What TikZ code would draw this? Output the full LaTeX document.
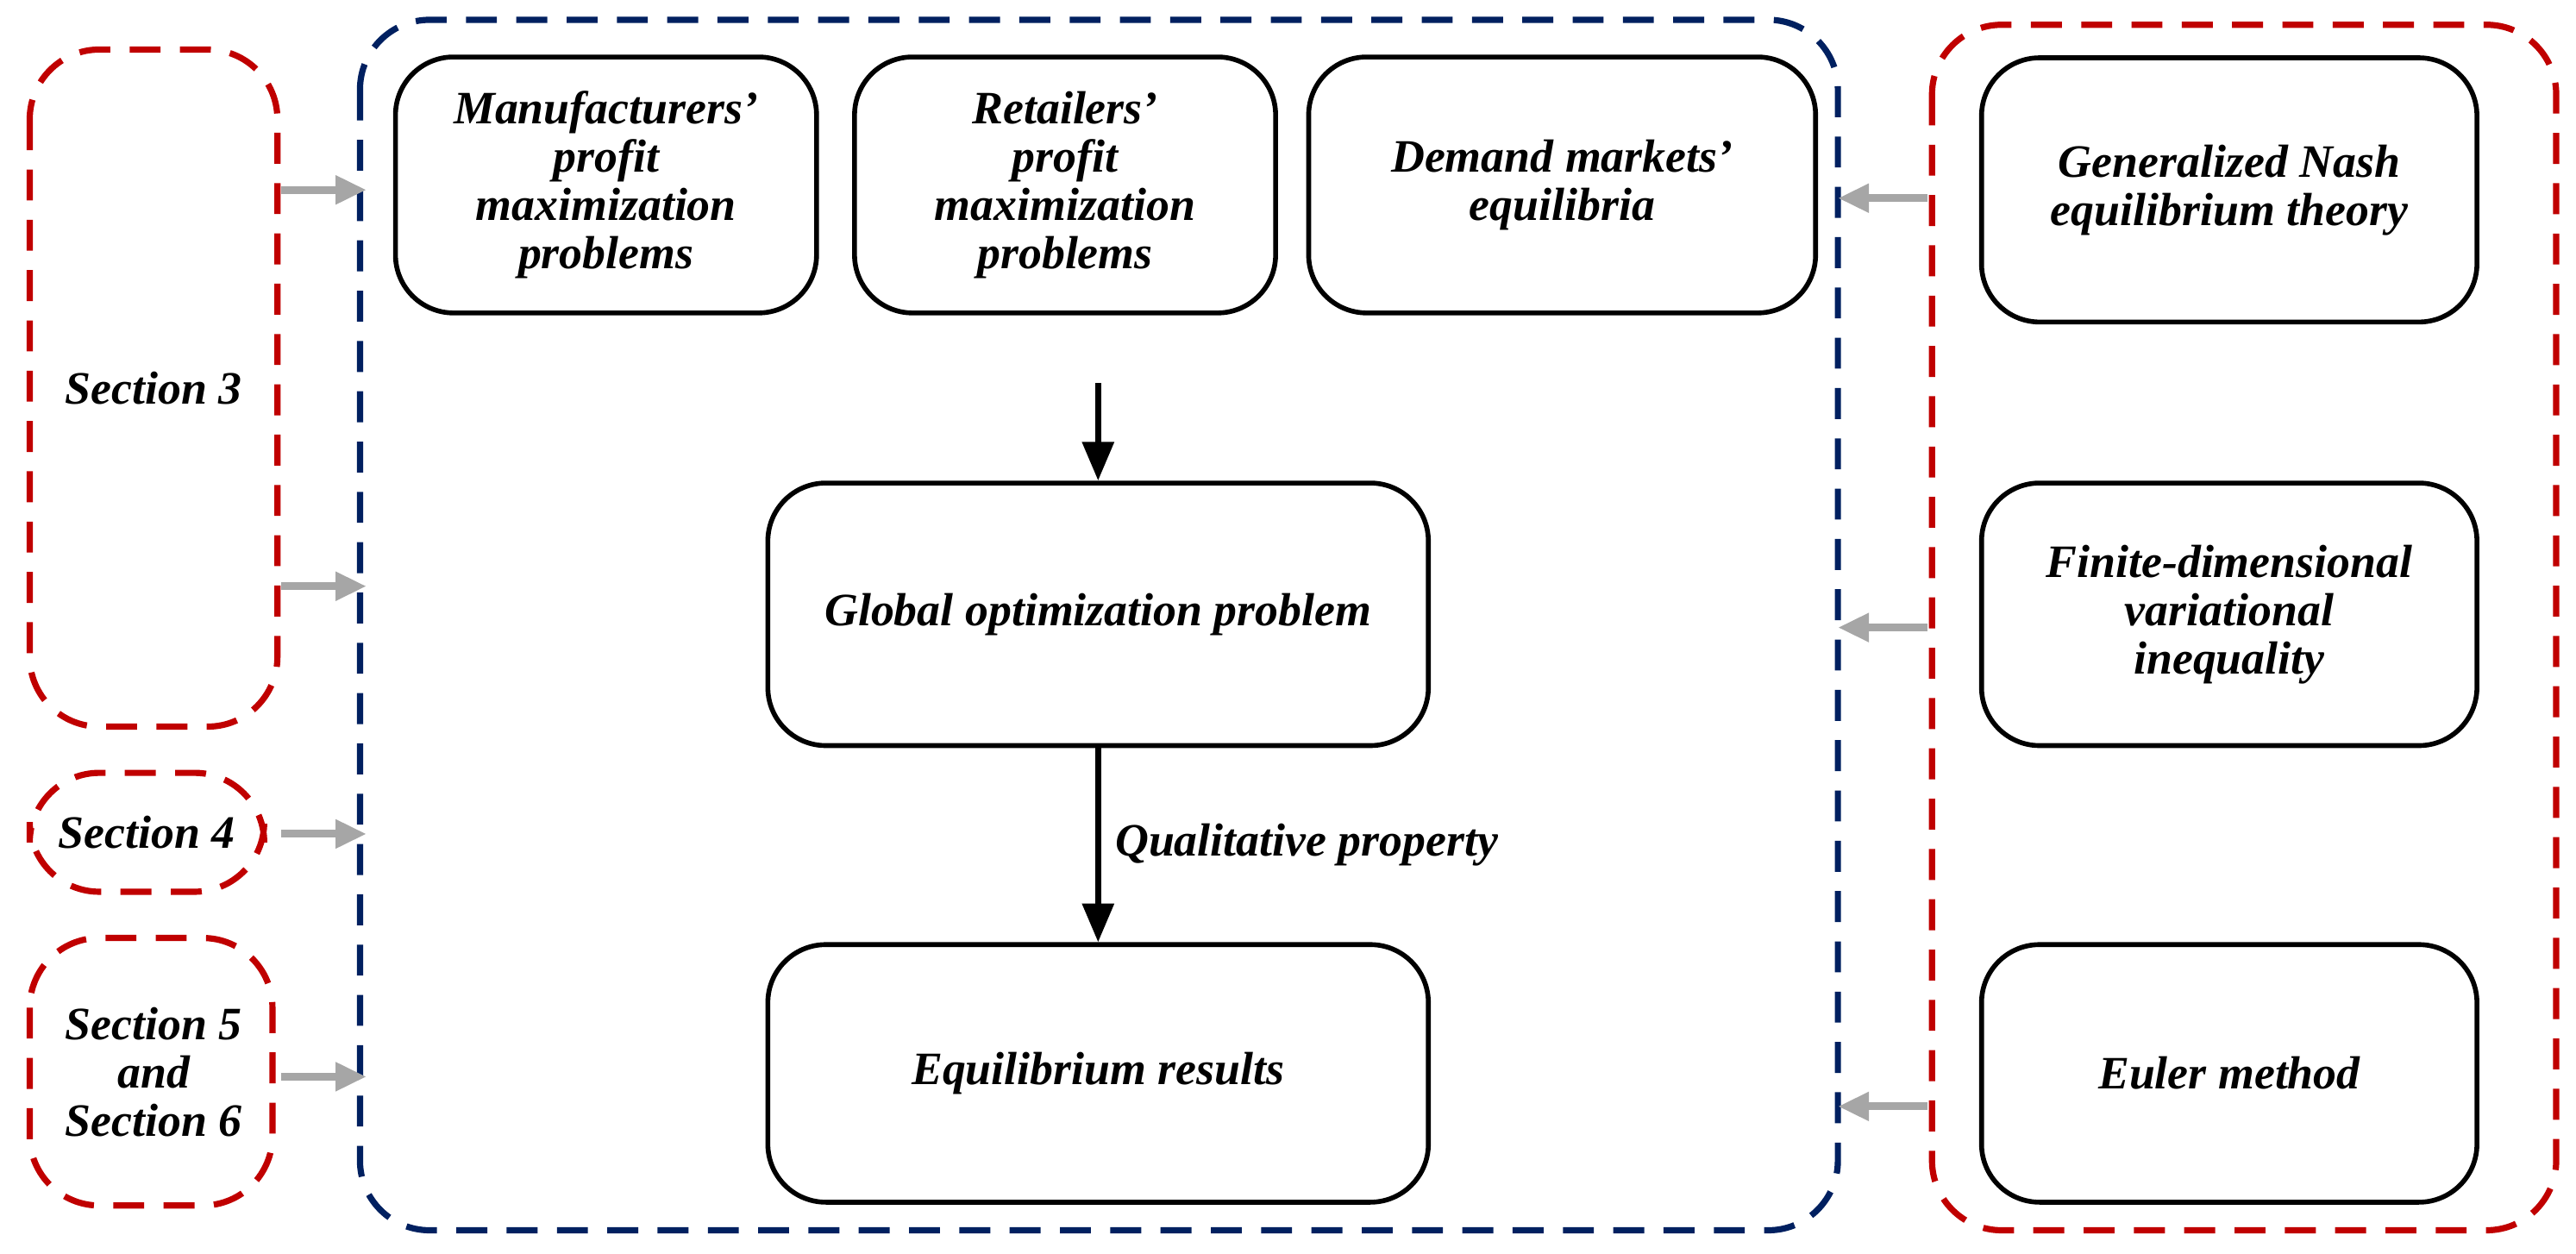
\documentclass[tikz,border=0pt]{standalone}
\usepackage{fontspec}
\setmainfont{Liberation Serif}
\usetikzlibrary{arrows.meta}
\definecolor{dred}{RGB}{192,0,0}
\definecolor{dblue}{RGB}{0,32,96}
\begin{document}
\begin{tikzpicture}[x=0.03cm,y=-0.03cm,
 font=\fontsize{24}{25}\selectfont\bfseries\itshape,
 box/.style={draw,line width=2.5pt,rounded corners=30pt,align=center},
 grp/.style={line width=3.2pt,dash pattern=on 16pt off 10pt,rounded corners=36pt},
 garr/.style={-{Triangle[length=16pt,width=14pt]},line width=4pt,gray!70},
 barr/.style={-{Triangle[length=20pt,width=16pt]},line width=3pt}]
\useasboundingbox (0,0) rectangle (1560,759);
\draw[grp,dred] (18,30) rectangle (168,440);
\draw[grp,dred] (18,468) rectangle (160,540);
\draw[grp,dred] (18,568) rectangle (165,730);
\draw[grp,dblue] (218,12) rectangle (1113,745);
\draw[grp,dred] (1170,15) rectangle (1548,745);
\node at (93,235) {Section 3};
\node at (89,504) {Section 4};
\node[align=center] at (93,649) {Section 5\\and\\Section 6};
\node[box,minimum width=255*0.03cm,minimum height=155*0.03cm] (m) at (367,112) {Manufacturers'\\profit\\maximization\\problems};
\node[box,minimum width=255*0.03cm,minimum height=155*0.03cm] (r) at (645,112) {Retailers'\\profit\\maximization\\problems};
\node[box,minimum width=307*0.03cm,minimum height=155*0.03cm] (d) at (946,112) {Demand markets'\\equilibria};
\node[box,minimum width=400*0.03cm,minimum height=159*0.03cm] (g) at (665,372) {Global optimization problem};
\node[box,minimum width=400*0.03cm,minimum height=156*0.03cm] (e) at (665,650) {Equilibrium results};
\node[box,minimum width=300*0.03cm,minimum height=160*0.03cm] (n) at (1350,115) {Generalized Nash\\equilibrium theory};
\node[box,minimum width=300*0.03cm,minimum height=159*0.03cm] (f) at (1350,372) {Finite-dimensional\\variational\\inequality};
\node[box,minimum width=300*0.03cm,minimum height=156*0.03cm] (u) at (1350,650) {Euler method};
\coordinate (rt) at (665,232);
\draw[barr] (rt) -- (g.north);
\draw[barr] (g.south) -- node[right,xshift=4pt] {Qualitative property} (e.north);
\foreach \y in {115,355,505,652}{\coordinate (a\y) at (170,\y); \coordinate (b\y) at (222,\y); \draw[garr] (a\y) -- (b\y);}
\foreach \y in {120,380,670}{\coordinate (c\y) at (1167,\y); \coordinate (d\y) at (1113,\y); \draw[garr] (c\y) -- (d\y);}
\end{tikzpicture}
\end{document}
